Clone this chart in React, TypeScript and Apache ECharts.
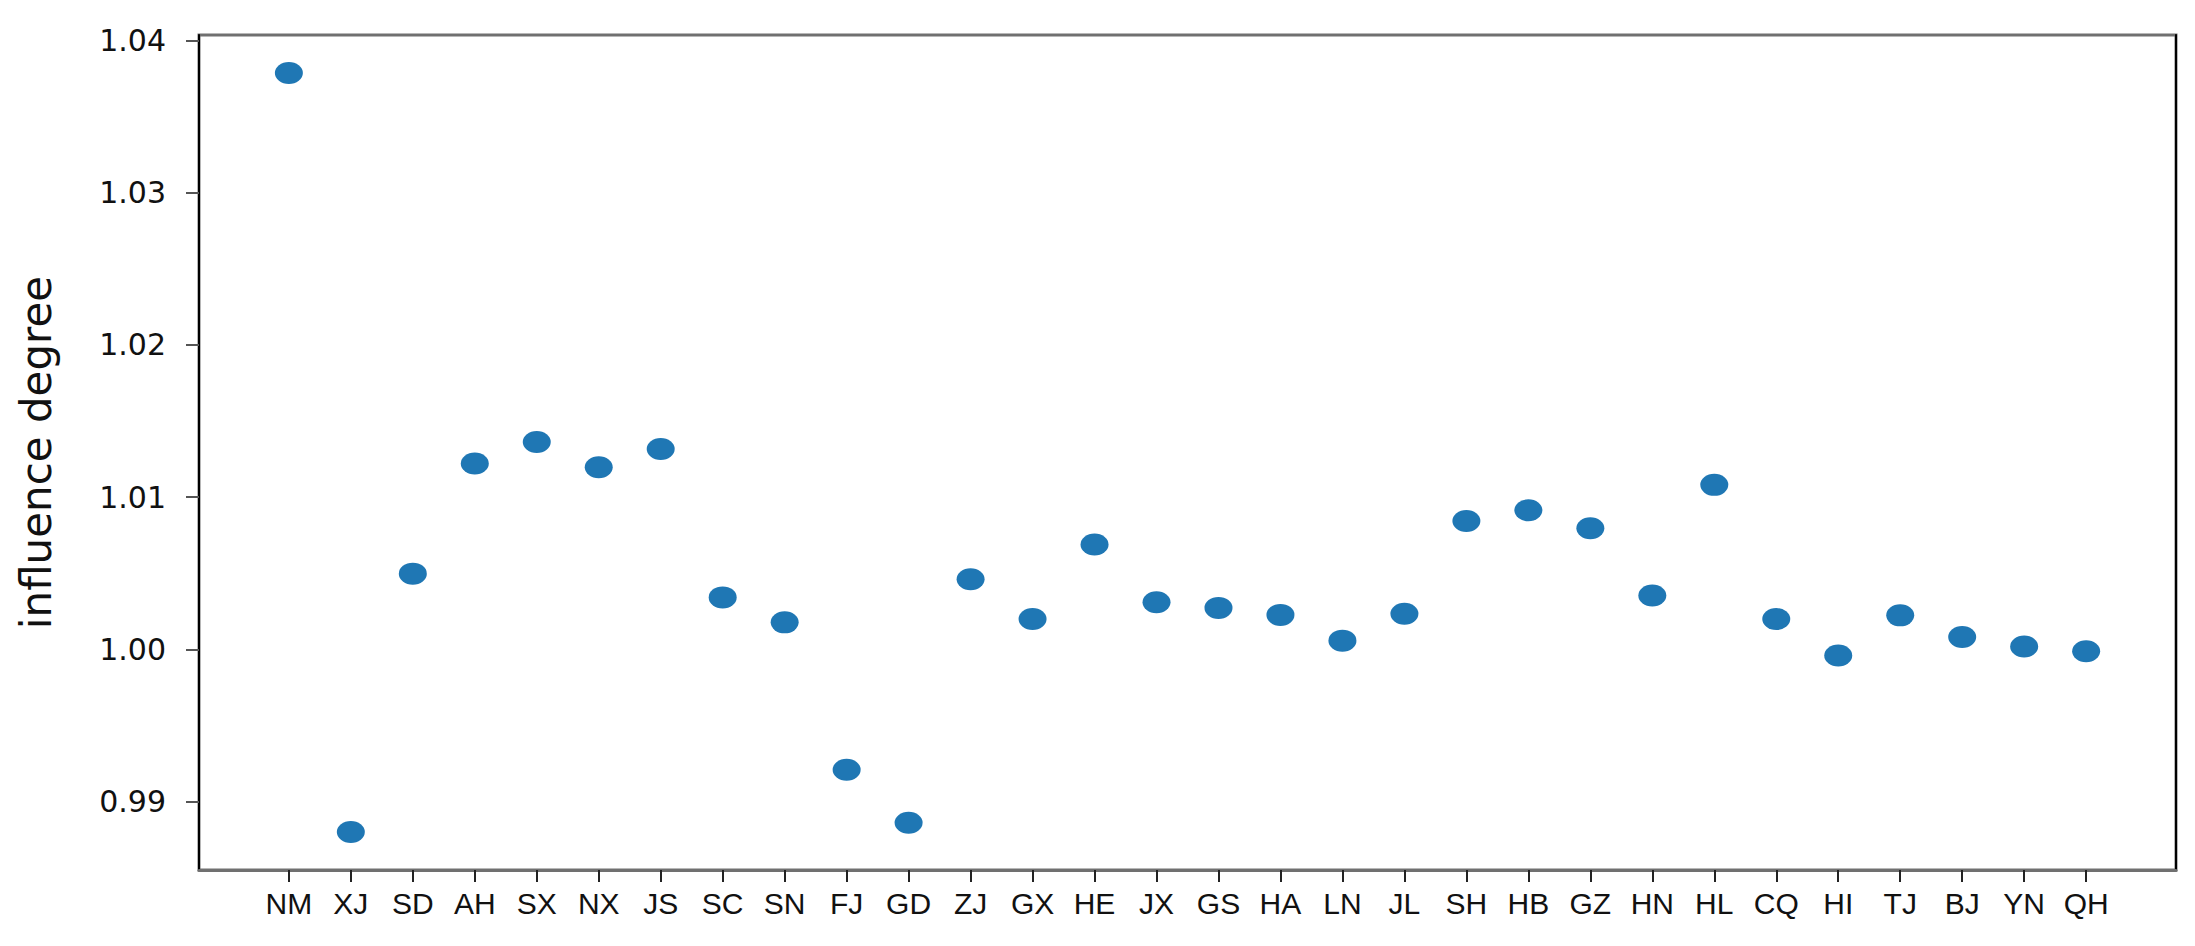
import React, { useEffect, useRef } from "react";
import * as echarts from "echarts";

const categories = [
  "NM", "XJ", "SD", "AH", "SX", "NX", "JS", "SC", "SN", "FJ",
  "GD", "ZJ", "GX", "HE", "JX", "GS", "HA", "LN", "JL", "SH",
  "HB", "GZ", "HN", "HL", "CQ", "HI", "TJ", "BJ", "YN", "QH",
];

const values = [
  1.03786, 0.98801, 1.00498, 1.01221, 1.01363, 1.01197, 1.01317, 1.00342, 1.00178, 0.9921,
  0.98862, 1.00461, 1.002, 1.00689, 1.0031, 1.00273, 1.00227, 1.00058, 1.00235, 1.00844,
  1.00914, 1.00796, 1.00355, 1.01081, 1.002, 0.99961, 1.00224, 1.00082, 1.0002, 0.99988,
];

const yTicks = [0.99, 1.0, 1.01, 1.02, 1.03, 1.04];
const yTitle = "influence degree";

export default function App() {
  const ref = useRef<HTMLDivElement>(null);

  useEffect(() => {
    document.body.style.margin = "0";
    if (!ref.current) return;
    const chart = echarts.init(ref.current, null, { renderer: "svg" });

    const n = categories.length;
    const xPad = (n - 1) * 0.05;
    const yMinData = Math.min(...values);
    const yMaxData = Math.max(...values);
    const yPad = (yMaxData - yMinData) * 0.05;
    const yMin = yMinData - yPad;
    const yMax = yMaxData + yPad;

    const data = values.map((v, i) => [i, v]);
    const xIdx = categories.map((_, i) => i);

    const ellipse = "path://M0 10 A10 10 0 1 1 20 10 A10 10 0 1 1 0 10 Z";

    chart.setOption({
      animation: false,
      backgroundColor: "#ffffff",
      grid: {
        left: 199,
        right: 19,
        top: 35,
        bottom: 76,
        show: true,
        borderColor: "#707070",
        borderWidth: 3,
        backgroundColor: "transparent",
      },
      xAxis: {
        type: "value",
        min: -xPad,
        max: n - 1 + xPad,
        splitLine: { show: false },
        axisLine: { show: true, onZero: false, lineStyle: { color: "#707070", width: 3 } },
        axisTick: {
          show: true,
          customValues: xIdx,
          length: 12,
          lineStyle: { color: "#222", width: 2 },
        },
        axisLabel: {
          customValues: xIdx,
          margin: 18,
          fontSize: 30,
          color: "#111",
          fontFamily: "'Liberation Sans Narrow', 'Liberation Sans', sans-serif",
          formatter: (v: number) => categories[Math.round(v)] ?? "",
        },
      },
      yAxis: [
        {
          type: "value",
          position: "left",
          min: yMin,
          max: yMax,
          splitLine: { show: false },
          axisLine: { show: true, onZero: false, lineStyle: { color: "#000", width: 2 } },
          axisTick: {
            show: true,
            customValues: yTicks,
            length: 13,
            lineStyle: { color: "#555", width: 2 },
          },
          axisLabel: {
            customValues: yTicks,
            margin: 33,
            fontSize: 30,
            color: "#111",
            fontFamily: "'DejaVu Sans', sans-serif",
            formatter: (v: number) => v.toFixed(2),
          },
          name: yTitle,
          nameLocation: "middle",
          nameRotate: 90,
          nameGap: 142,
          nameTextStyle: {
            fontSize: 42,
            color: "#111",
            fontFamily: "'DejaVu Sans', sans-serif",
          },
        },
        {
          type: "value",
          position: "right",
          min: yMin,
          max: yMax,
          splitLine: { show: false },
          axisLine: { show: true, onZero: false, lineStyle: { color: "#000", width: 2 } },
          axisTick: { show: false },
          axisLabel: { show: false },
        },
      ],
      series: [
        {
          type: "scatter",
          data,
          symbol: ellipse,
          symbolSize: [28, 22],
          itemStyle: { color: "#1f77b4", opacity: 1 },
        },
      ],
    });

    return () => chart.dispose();
  }, []);

  return <div ref={ref} style={{ width: 2195, height: 946 }} />;
}
